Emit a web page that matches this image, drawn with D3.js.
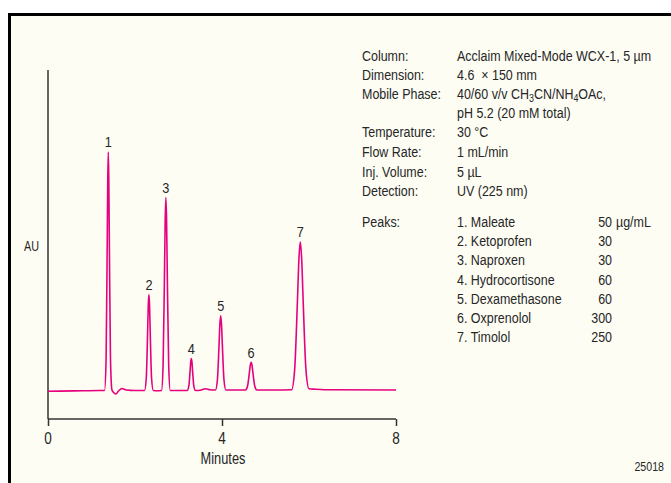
<!DOCTYPE html>
<html>
<head>
<meta charset="utf-8">
<script src="https://cdn.jsdelivr.net/npm/d3@7"></script>
<style>
  html, body { margin: 0; padding: 0; background: #ffffff; }
  svg { display: block; }
  text { font-family: "Liberation Sans", Arial, sans-serif; fill: #262626; }
</style>
</head>
<body>
<script>
// ---------- data ----------
const xTicks = [0, 4, 8];
const xDomain = [0, 8];
const yDomain = [0, 349];  // arbitrary AU units

// chromatogram trace: [minutes, AU]
const trace = [
  [0.00, 27.7], [0.60, 28.1], [1.20, 28.5],
  [1.30, 28.5], [1.336, 60.7], [1.361, 173], [1.374, 239], [1.386, 267], [1.398, 239], [1.411, 173], [1.436, 61], [1.47, 29],
  [1.52, 26], [1.56, 25], [1.62, 28], [1.70, 30.5], [1.80, 29], [2.00, 28.5],
  [2.22, 28.5], [2.26, 41.5], [2.29, 86.8], [2.305, 113.2], [2.32, 124.5], [2.335, 113.2], [2.35, 86.8], [2.38, 41.5], [2.42, 28.5],
  [2.52, 28.3],
  [2.61, 28.5], [2.646, 54.5], [2.678, 145.5], [2.694, 198.5], [2.71, 221.5], [2.726, 198.5], [2.742, 145.5], [2.774, 54.5], [2.81, 28.5],
  [3.00, 28.5],
  [3.20, 28.5], [3.237, 32.8], [3.266, 47.9], [3.28, 56.7], [3.295, 60.5], [3.31, 56.7], [3.324, 47.9], [3.353, 32.8], [3.39, 28.5],
  [3.50, 28.8], [3.62, 30.3], [3.72, 29.2], [3.82, 29],
  [3.85, 29], [3.894, 39], [3.932, 74.1], [3.951, 94.5], [3.97, 103.3], [3.989, 94.5], [4.008, 74.1], [4.046, 39], [4.09, 29],
  [4.35, 29],
  [4.54, 29], [4.586, 32.7], [4.628, 45.8], [4.649, 53.4], [4.67, 56.7], [4.691, 53.4], [4.712, 45.8], [4.754, 32.7], [4.80, 29],
  [5.20, 29],
  [5.60, 29.2], [5.67, 49.2], [5.735, 119], [5.768, 159.7], [5.80, 177.3], [5.832, 159.7], [5.865, 119], [5.93, 49.2], [6.00, 30.2],
  [6.15, 29.8], [6.50, 29.2], [8.00, 29]
];

const peakNumbers = ["1", "2", "3", "4", "5", "6", "7"];
const peakTimes   = [1.386, 2.32, 2.71, 3.295, 3.97, 4.67, 5.80];
const peakTops    = [267, 124.5, 221.5, 60.5, 103.3, 56.7, 177.3];

const condLabels = ["Column:", "Dimension:", "Mobile Phase:", "", "Temperature:", "Flow Rate:", "Inj. Volume:", "Detection:"];
const condValues = ["Acclaim Mixed-Mode WCX-1, 5 µm", "4.6  × 150 mm", "MOBILE", "pH 5.2 (20 mM total)", "30 °C", "1 mL/min", "5 µL", "UV (225 nm)"];

const peakNames = ["1. Maleate", "2. Ketoprofen", "3. Naproxen", "4. Hydrocortisone", "5. Dexamethasone", "6. Oxprenolol", "7. Timolol"];
const peakConc  = ["50", "30", "30", "60", "60", "300", "250"];
const concUnit  = "µg/mL";

// ---------- drawing ----------
const W = 671, H = 483;
const svg = d3.select("body").append("svg").attr("width", W).attr("height", H);

function addText(px, py, str, size, sx, anchor) {
  return svg.append("text")
    .attr("transform", `translate(${px},${py}) scale(${sx},1)`)
    .attr("dominant-baseline", "central")
    .attr("text-anchor", anchor || "start")
    .attr("font-size", size)
    .attr("xml:space", "preserve").style("white-space", "pre")
    .text(str);
}

// frame
svg.append("rect").attr("x", 9.5).attr("y", 14.5).attr("width", W + 20).attr("height", H + 20)
  .attr("fill", "#fdfdf4").attr("stroke", "#000").attr("stroke-width", 3);

const x = d3.scaleLinear().domain(xDomain).range([48, 396]);
const y = d3.scaleLinear().domain(yDomain).range([419, 70]);

// y axis line
svg.append("line").attr("x1", x(0)).attr("x2", x(0)).attr("y1", y(yDomain[1])).attr("y2", y(0))
  .attr("stroke", "#333").attr("stroke-width", 1.5);

// x axis
const xAxis = d3.axisBottom(x).tickValues(xTicks).tickSize(7).tickFormat("");
const gx = svg.append("g").attr("transform", `translate(0,${y(0)})`).call(xAxis);
gx.select(".domain").attr("stroke", "#333").attr("stroke-width", 1.5).attr("d", `M${x(0)},0H${x(8)}`);
gx.selectAll(".tick line").attr("stroke", "#333").attr("stroke-width", 1.5);
xTicks.forEach(t => addText(x(t), 438, String(t), 17, 0.8, "middle"));

addText(223, 458, "Minutes", 16, 0.8, "middle");
addText(24, 246, "AU", 15, 0.72, "start");

// trace
const line = d3.line().x(d => x(d[0])).y(d => y(d[1])).curve(d3.curveMonotoneX);
svg.append("path").datum(trace).attr("d", line).attr("fill", "none")
  .attr("stroke", "#e6007e").attr("stroke-width", 1.6).attr("stroke-linejoin", "round");

// peak labels
peakNumbers.forEach((d, i) => addText(x(peakTimes[i]), y(peakTops[i]) - 10, d, 15, 0.85, "middle"));

// conditions
const condY = [56, 75, 94, 113, 132, 152, 172, 191];
const fs = 14, sx = 0.89;
condLabels.forEach((lab, i) => {
  if (lab) addText(362, condY[i], lab, fs, sx);
  if (condValues[i] === "MOBILE") {
    const t = addText(457, condY[i], "", fs, sx);
    t.append("tspan").text("40/60 v/v CH");
    t.append("tspan").attr("font-size", 10).attr("dy", 3.5).text("3");
    t.append("tspan").attr("dy", -3.5).text("CN/NH");
    t.append("tspan").attr("font-size", 10).attr("dy", 3.5).text("4");
    t.append("tspan").attr("dy", -3.5).text("OAc,");
  } else {
    addText(457, condY[i], condValues[i], fs, sx);
  }
});

// peaks table
const pkY = [222, 241, 260, 280, 299, 318, 337];
addText(362, pkY[0], "Peaks:", fs, sx);
peakNames.forEach((n, i) => {
  addText(457, pkY[i], n, fs, sx);
  addText(612, pkY[i], peakConc[i], fs, sx, "end");
});
addText(616, pkY[0], concUnit, fs, sx);

addText(664, 467, "25018", 13, 0.82, "end");
</script>
</body>
</html>
